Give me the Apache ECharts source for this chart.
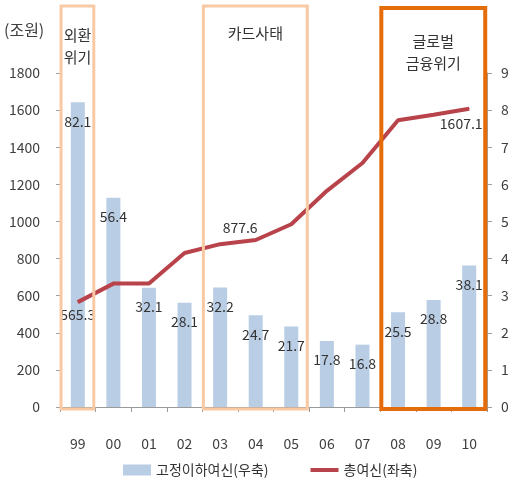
<!DOCTYPE html>
<html>
<head>
<meta charset="utf-8">
<script src="https://cdn.jsdelivr.net/npm/echarts@6/dist/echarts.min.js"></script>
<style>
  html, body { margin: 0; padding: 0; background: #fff; }
  #chart-container { width: 513px; height: 487px; }
</style>
</head>
<body>
<div id="chart-container"></div>
<script>
var years = ["99", "00", "01", "02", "03", "04", "05", "06", "07", "08", "09", "10"];
// 고정이하여신 (right axis, shown /10)
var badLoans = [82.1, 56.4, 32.1, 28.1, 32.2, 24.7, 21.7, 17.8, 16.8, 25.5, 28.8, 38.1];
// 총여신 (left axis)
var totalLoans = [565.3, 665, 665, 830, 877.6, 900, 985, 1165, 1315, 1545, 1575, 1607.1];
var labelledTotals = [0, 4, 11];
var crisisNames = ["외환\n위기", "카드사태", "글로벌\n금융위기"];
var crisisFrom = [0, 4, 9];
var crisisTo = [0, 6, 11];

var font = "'Noto Sans CJK KR', 'Noto Sans', sans-serif";
var dom = document.getElementById("chart-container");
var myChart = echarts.init(dom);

var lineLabelPos = { 0: ["bottom", [0, 0]], 4: ["top", [20, -4]], 11: ["bottom", [-8, 2]] };
var lineData = totalLoans.map(function (v, i) {
  if (labelledTotals.indexOf(i) < 0) return v;
  return {
    value: v,
    label: { show: true, position: lineLabelPos[i][0], offset: lineLabelPos[i][1] }
  };
});

var option = {
  animation: false,
  textStyle: { fontFamily: font },
  grid: { left: 60, right: 26, top: 73, bottom: 80 },
  legend: {
    left: 118,
    top: 458,
    itemWidth: 28,
    itemHeight: 11,
    itemGap: 42,
    textStyle: { fontSize: 14, color: "#333", fontFamily: font },
    data: [
      { name: "고정이하여신(우축)", icon: "rect" },
      { name: "총여신(좌축)", icon: "path://M0,0H28V4H0Z" }
    ]
  },
  xAxis: {
    type: "category",
    data: years,
    boundaryGap: true,
    axisLine: { lineStyle: { color: "#9a9a9a" } },
    axisTick: { show: true, length: 5, lineStyle: { color: "#9a9a9a" } },
    axisLabel: { margin: 30, fontSize: 14, color: "#404040" }
  },
  yAxis: [
    {
      type: "value",
      min: 0,
      max: 1800,
      interval: 200,
      axisLine: { show: true, lineStyle: { color: "#a0a0a0" } },
      axisTick: { show: true, length: 4, lineStyle: { color: "#a0a0a0" } },
      axisLabel: {
        margin: 20,
        fontSize: 14,
        color: "#404040",
        formatter: function (v) { return String(v); }
      },
      splitLine: { show: false }
    },
    {
      type: "value",
      min: 0,
      max: 90,
      interval: 10,
      axisLine: { show: true, lineStyle: { color: "#a0a0a0" } },
      axisTick: { show: true, length: 5, lineStyle: { color: "#a0a0a0" } },
      axisLabel: {
        margin: 14,
        fontSize: 14,
        color: "#404040",
        formatter: function (v) { return String(v / 10); }
      },
      splitLine: { show: false }
    }
  ],
  series: [
    {
      name: "고정이하여신(우축)",
      type: "bar",
      yAxisIndex: 1,
      barWidth: 14,
      data: badLoans,
      itemStyle: { color: "#b9cde5" },
      label: {
        show: true,
        position: "insideTop",
        distance: 12,
        fontSize: 14,
        color: "#333",
        fontFamily: font
      },
      z: 2
    },
    {
      name: "총여신(좌축)",
      type: "line",
      yAxisIndex: 0,
      data: lineData,
      symbol: "circle",
      symbolSize: 1,
      lineStyle: { color: "#b8434b", width: 4 },
      itemStyle: { color: "#b8434b" },
      label: { show: false, fontSize: 14, color: "#333", fontFamily: font },
      z: 3
    }
  ]
};

if (option && typeof option === "object") {
  myChart.setOption(option, true);
}

// crisis boxes placed from category positions
var x0 = myChart.convertToPixel({ xAxisIndex: 0 }, 0);
var step = myChart.convertToPixel({ xAxisIndex: 0 }, 1) - x0;
var zeroY = myChart.convertToPixel({ yAxisIndex: 0 }, 0);
var boxColors = ["#f9c9a3", "#f9c9a3", "#e46c0a"];
var boxWidths = [3, 3, 4];
var boxTops = [6, 6, 8];
var textTops = [24, 22, 30];
var graphics = [];
crisisNames.forEach(function (name, k) {
  var left = x0 + step * (crisisFrom[k] - 0.47);
  var right = x0 + step * (crisisTo[k] + 0.45);
  graphics.push({
    type: "rect",
    shape: { x: left, y: boxTops[k], width: right - left, height: zeroY + 2 - boxTops[k] },
    style: { fill: "none", stroke: boxColors[k], lineWidth: boxWidths[k] },
    z: 10
  });
  graphics.push({
    type: "text",
    x: (left + right) / 2,
    y: textTops[k],
    style: {
      text: name,
      fontSize: 15,
      lineHeight: 22,
      fill: "#333",
      align: "center",
      fontFamily: font
    },
    z: 11
  });
});
graphics.push({
  type: "text",
  x: 4,
  y: 22,
  style: { text: "(조원)", fontSize: 16, fill: "#404040", fontFamily: font },
  z: 11
});
myChart.setOption({ graphic: graphics });
</script>
</body>
</html>
